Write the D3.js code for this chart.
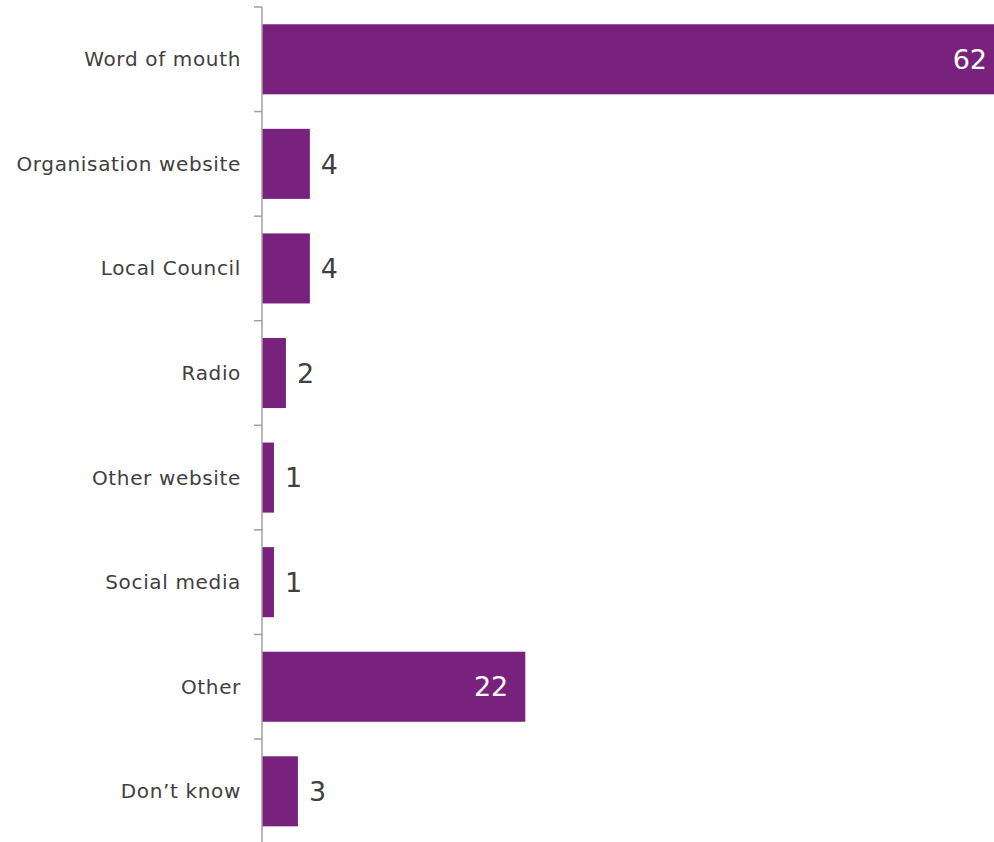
<!DOCTYPE html>
<html>
<head>
<meta charset="utf-8">
<script src="https://cdn.jsdelivr.net/npm/d3@7"></script>
<style>
  html, body { margin: 0; padding: 0; background: #ffffff; }
  svg { display: block; }
</style>
</head>
<body>
<div id="chart"></div>
<script>
// Where people heard about the service (%)
const categories = ["Word of mouth", "Organisation website", "Local Council", "Radio",
                    "Other website", "Social media", "Other", "Don\u2019t know"];
const values = [62, 4, 4, 2, 1, 1, 22, 3];
// Labels wider than this share of the axis sit inside the bar
const insideThreshold = 10;

const width = 994, height = 842;
const axisX = 262;
const barColor = "#79227d";
const textColor = "#404040";
const axisColor = "#a0a0a0";
const font = "'DejaVu Sans', Verdana, sans-serif";

const svg = d3.select("#chart").append("svg")
  .attr("width", width).attr("height", height);

const x = d3.scaleLinear().domain([0, 62]).range([axisX, 1004]);

const y = d3.scaleBand()
  .domain(categories)
  .range([7, 843.6])
  .paddingInner(0.33)
  .paddingOuter(0.165);

const step = y.step();
const gap = step * y.paddingInner();

const data = categories.map((c, i) => ({ cat: c, val: values[i] }));

// Bars
svg.append("g").selectAll("rect").data(data).join("rect")
  .attr("x", x(0))
  .attr("y", d => y(d.cat))
  .attr("width", d => x(d.val) - x(0))
  .attr("height", y.bandwidth())
  .attr("fill", barColor);

// Category axis: vertical line with ticks on band boundaries
const axis = svg.append("g");
axis.append("line")
  .attr("x1", axisX).attr("x2", axisX)
  .attr("y1", 7).attr("y2", height + 2)
  .attr("stroke", axisColor).attr("stroke-width", 1.5);
const boundaries = categories.map(c => y(c) - gap / 2);
boundaries.push(y(categories[categories.length - 1]) + y.bandwidth() + gap / 2);
axis.selectAll("line.tick").data(boundaries).join("line")
  .attr("class", "tick")
  .attr("x1", axisX - 8).attr("x2", axisX)
  .attr("y1", d => d).attr("y2", d => d)
  .attr("stroke", axisColor).attr("stroke-width", 1.5);

// Category labels
svg.append("g").selectAll("text").data(data).join("text")
  .attr("x", axisX - 21)
  .attr("y", d => y(d.cat) + y.bandwidth() / 2)
  .attr("dy", "0.35em")
  .attr("text-anchor", "end")
  .attr("fill", textColor)
  .style("font-family", font)
  .style("font-size", "20px")
  .style("letter-spacing", "0.65px")
  .text(d => d.cat);

// Value labels
svg.append("g").selectAll("text").data(data).join("text")
  .attr("x", d => d.val > insideThreshold ? x(d.val) - 17 : x(d.val) + 11)
  .attr("y", d => y(d.cat) + y.bandwidth() / 2)
  .attr("dy", "0.36em")
  .attr("text-anchor", d => d.val > insideThreshold ? "end" : "start")
  .attr("fill", d => d.val > insideThreshold ? "#ffffff" : textColor)
  .style("font-family", font)
  .style("font-size", "27px")
  .text(d => d.val);
</script>
</body>
</html>
